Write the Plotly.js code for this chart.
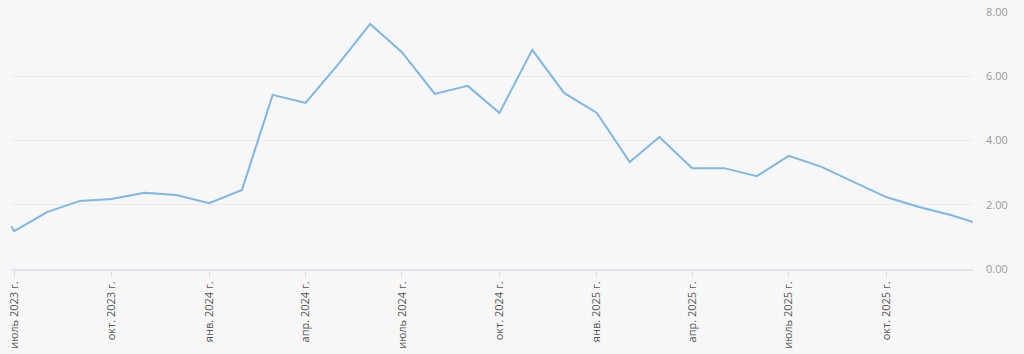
<!DOCTYPE html>
<html>
<head>
<meta charset="utf-8">
<script src="https://cdn.plot.ly/plotly-3.0.1.min.js"></script>
<style>
html,body{margin:0;padding:0;background:#f7f7f7;}
#chart{width:1024px;height:354px;}
</style>
</head>
<body>
<div id="chart"></div>
<script>
const dates = [
  "2023-06-28","2023-07-01","2023-08-01","2023-09-01","2023-10-01","2023-11-01","2023-12-01",
  "2024-01-01","2024-02-01","2024-03-01","2024-04-01","2024-05-01","2024-06-01","2024-07-01",
  "2024-08-01","2024-09-01","2024-10-01","2024-11-01","2024-12-01",
  "2025-01-01","2025-02-01","2025-03-01","2025-04-01","2025-05-01","2025-06-01","2025-07-01",
  "2025-08-01","2025-09-01","2025-10-01","2025-11-01","2025-12-01","2025-12-22"
];
const values = [
  1.34,1.18,1.77,2.12,2.18,2.37,2.30,
  2.05,2.46,5.42,5.17,6.34,7.63,6.75,
  5.45,5.70,4.86,6.82,5.48,
  4.86,3.33,4.11,3.14,3.14,2.89,3.52,
  3.18,2.71,2.24,1.93,1.68,1.46
];
const tickDates = ["2023-07-01","2023-10-01","2024-01-01","2024-04-01","2024-07-01","2024-10-01",
  "2025-01-01","2025-04-01","2025-07-01","2025-10-01"];
const tickLabels = ["июль 2023 г.","окт. 2023 г.","янв. 2024 г.","апр. 2024 г.","июль 2024 г.","окт. 2024 г.",
  "янв. 2025 г.","апр. 2025 г.","июль 2025 г.","окт. 2025 г."];
const yTicks = [0,2,4,6,8];
const yLabels = ["0.00","2.00","4.00","6.00","8.00"];

Plotly.newPlot("chart", [{
  x: dates, y: values, type: "scatter", mode: "lines",
  line: {color: "#7db6e9", width: 2},
  hoverinfo: "x+y"
}], {
  width: 1024, height: 354,
  margin: {l: 11, r: 51, t: 12, b: 85},
  paper_bgcolor: "#f7f7f7", plot_bgcolor: "#f7f7f7",
  showlegend: false,
  font: {family: "Open Sans, sans-serif"},
  xaxis: {
    type: "date",
    range: [dates[0], dates[dates.length-1]],
    tickmode: "array", tickvals: tickDates, ticktext: tickLabels,
    tickangle: -90,
    tickfont: {size: 11, color: "#555"},
    ticks: "outside", ticklen: 6, tickcolor: "#dcdce6", tickwidth: 1,
    showgrid: false, zeroline: false,
    showline: true, linecolor: "#e2e2ec", linewidth: 2,
    fixedrange: true
  },
  yaxis: {
    side: "right",
    range: [0, 8],
    tickmode: "array", tickvals: yTicks, ticktext: yLabels,
    tickfont: {size: 11, color: "#999"},
    ticklabelstandoff: 12,
    showgrid: true, gridcolor: "#ebebeb", gridwidth: 1,
    zeroline: false, showline: false,
    fixedrange: true
  }
}, {displayModeBar: false, staticPlot: true});
</script>
</body>
</html>
